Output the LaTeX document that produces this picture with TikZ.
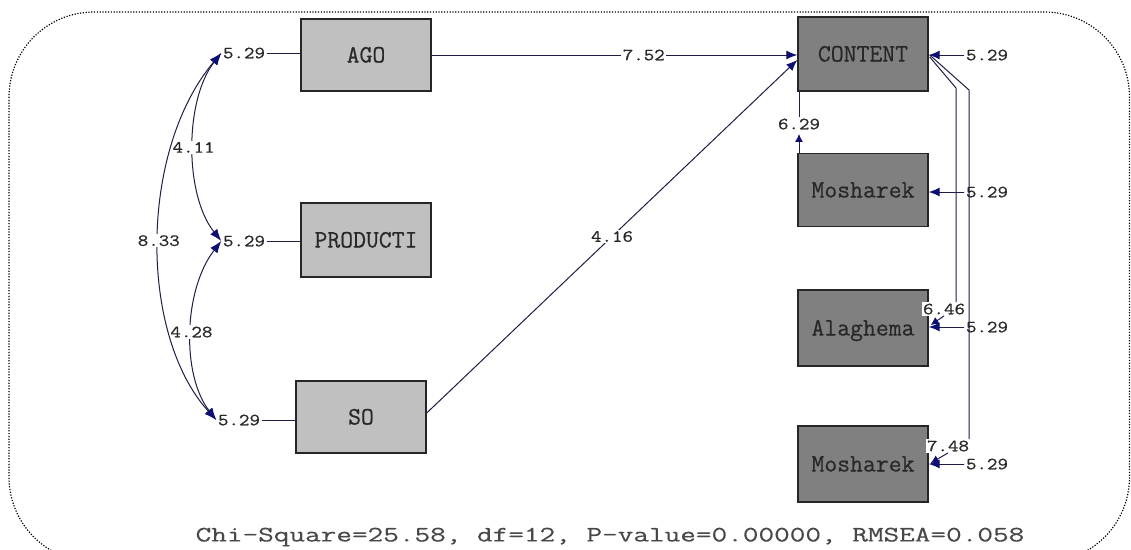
\documentclass[tikz,border=0pt]{standalone}
\usepackage{fontspec}
\usetikzlibrary{arrows.meta,calc}
\newfontfamily\valf[FakeStretch=1.2,FakeBold=0.8]{Latin Modern Mono}
\newfontfamily\boxf[FakeBold=0.5]{Latin Modern Mono}
\newfontfamily\fitf[FakeStretch=1.38,FakeBold=0.4]{Latin Modern Mono}
\definecolor{exo}{RGB}{192,192,192}
\definecolor{endo}{RGB}{128,128,128}
\definecolor{pathc}{RGB}{30,30,70}
\definecolor{tipc}{RGB}{15,15,115}
\definecolor{txt}{RGB}{40,40,40}
\tikzset{
  box/.style={draw=black!85, line width=1.4pt, minimum width=130pt, minimum height=74pt,
    inner sep=0pt, text height=15pt, text depth=0pt, font=\boxf\fontsize{25}{28}\selectfont, text=txt},
  exobox/.style={box, fill=exo},
  endobox/.style={box, fill=endo},
  val/.style={font=\valf\fontsize{17}{20}\selectfont, text=txt, inner sep=1.5pt, text height=10.5pt, text depth=0pt},
  valw/.style={val, fill=white},
  conn/.style={draw=pathc, line width=1pt},
  arr/.style={-{Latex[length=11pt,width=9pt,color=tipc]}},
  arrs/.style={-{Latex[length=8pt,width=8pt,color=tipc]}},
  dbl/.style={{Latex[length=12pt,width=9pt,color=tipc]}-{Latex[length=12pt,width=9pt,color=tipc]}},
  frame/.style={draw=black, line width=1.2pt, dash pattern=on 1.2pt off 1.6pt, rounded corners=85pt}
}
\begin{document}
\begin{tikzpicture}[x=1pt,y=-1pt]
\useasboundingbox (0,0) rectangle (1131,549);
\clip (0,0) rectangle (1131,549);
\fill[white] (0,0) rectangle (1131,549);
\draw[frame] (9,12) rectangle (1129.5,562);

% boxes
\node[exobox, minimum height=72pt] (AGO) at (366,55) {AGO};
\node[exobox] (PROD) at (366,240) {PRODUCTI};
\node[exobox, minimum height=72pt] (SO) at (361,417) {SO};
\node[endobox] (CON) at (863,54) {CONTENT};
\node[endobox, minimum height=73pt] (M1) at (863,190) {Mosharek};
\node[endobox, minimum height=76pt] (AL) at (863,328) {Alaghema};
\node[endobox, minimum height=76pt] (M2) at (863,464) {Mosharek};

% left error values
\node[val] (eA) at (244,53) {5.29};
\node[val] (eP) at (244,241) {5.29};
\node[val] (eS) at (239,420) {5.29};
\draw[conn] (eA.east) -- (eA.east -| AGO.west);
\draw[conn] (eP.east) -- (eP.east -| PROD.west);
\draw[conn] (eS.east) -- (eS.east -| SO.west);

% covariances
\draw[conn, dbl] (eA.west) .. controls +(-37,47) and +(-37,-46) .. node[valw]{4.11} (eP.west);
\draw[conn, dbl] (eP.west) .. controls +(-38,49) and +(-35,-45) .. node[valw]{4.28} (eS.west);
\draw[conn, dbl] (eA.west) .. controls +(-82,97) and +(-78,-86) .. node[valw]{8.33} (eS.west);

% paths to CONTENT
\draw[conn, arr] (AGO.east) -- node[valw, pos=0.58]{7.52} (AGO.east -| CON.west);
\draw[conn, arr] (SO.east) ++(0,-4) -- node[valw]{4.16} ($(CON.west)+(0,6)$);

% right error values
\node[val] (rC) at (987,55) {5.29};
\node[val] (r1) at (987,192) {5.29};
\node[val] (r2) at (987,327) {5.29};
\node[val] (r3) at (987,464) {5.29};
\draw[conn, arr] (rC.west) -- (rC.west -| CON.east);
\draw[conn, arr] (r1.west) -- (r1.west -| M1.east);
\draw[conn, arr] (r2.west) -- (r2.west -| AL.east);
\draw[conn, arr] (r3.west) -- (r3.west -| M2.east);

% CONTENT -- Mosharek
\node[valw] (l629) at (799,124) {6.29};
\draw[conn] (l629.north) -- (l629.north |- CON.south);
\draw[conn, arrs, shorten >=3pt] (l629.north |- M1.north) -- (l629.south);

% CONTENT -> Alaghema
\coordinate (k1) at (956,88);
\node[valw] (l646) at (944,309) {6.46};
\draw[conn] ($(CON.east)+(1,3)$) -- (k1) -- (k1 |- l646.north);
\draw[conn, arrs] (l646.south) -- ($(AL.east)+(2,-3)$);

% CONTENT -> Mosharek (2)
\coordinate (k2) at (969,90);
\node[valw] (l748) at (948,446) {7.48};
\draw[conn] ($(CON.east)+(1,1)$) -- (k2) -- (k2 |- l748.north);
\draw[conn, arrs] (l748.south) -- ($(M2.east)+(2,-1)$);

% fit statistics
\node[font=\fitf\fontsize{22}{26}\selectfont, text=txt!85, inner sep=0pt] (fit) at (610,537)
  {Chi-Square=25.58, df=12, P-value=0.00000, RMSEA=0.058};
\end{tikzpicture}
\end{document}
